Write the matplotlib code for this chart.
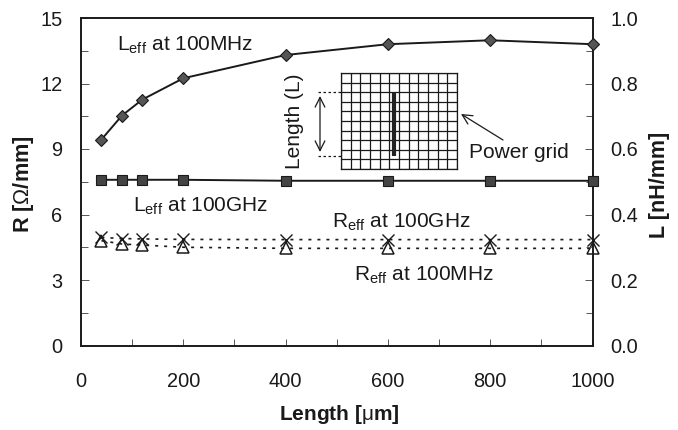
import matplotlib
matplotlib.use("Agg")
import matplotlib.pyplot as plt
import numpy as np

plt.rcParams['font.family'] = ['Liberation Sans', 'DejaVu Sans']
plt.rcParams['mathtext.fontset'] = 'custom'
plt.rcParams['mathtext.rm'] = 'Liberation Sans'
plt.rcParams['mathtext.bf'] = 'Liberation Sans:bold'

length = [40, 80, 120, 200, 400, 600, 800, 1000]
l_100mhz = [0.629, 0.702, 0.751, 0.816, 0.887, 0.920, 0.932, 0.920]
l_100ghz = [0.506, 0.506, 0.506, 0.506, 0.503, 0.503, 0.503, 0.503]
r_100ghz = [4.95, 4.90, 4.88, 4.86, 4.85, 4.85, 4.85, 4.85]
r_100mhz = [4.80, 4.65, 4.60, 4.50, 4.45, 4.45, 4.45, 4.45]

W, H = 678, 430
fig = plt.figure(figsize=(W/100, H/100), dpi=100)
L, R, T, B = 81, 592.5, 18, 345.5
ax = fig.add_axes([L/W, 1-B/H, (R-L)/W, (B-T)/H])
ax2 = ax.twinx()

ax.set_xlim(0, 1000)
ax.set_ylim(0, 15)
ax2.set_ylim(0, 1.0)

ink = '#1a1a1a'
ax2.plot(length, l_100mhz, '-', color=ink, lw=1.4, marker='D', ms=6.5, mfc='#555555', mec=ink, mew=0.8, clip_on=False, zorder=5)
ax2.plot(length, l_100ghz, '-', color=ink, lw=1.4, marker='s', ms=6.5, mfc='#444444', mec=ink, mew=0.8, clip_on=False, zorder=5)
dots = (0, (1.8, 3.6))
ax.plot(length, r_100ghz, ls=dots, color=ink, lw=1.2, marker='x', ms=8.5, mfc='none', mec=ink, mew=1.0, clip_on=False)
ax.plot(length, r_100mhz, ls=dots, color=ink, lw=1.2, marker='^', ms=8, mfc='none', mec=ink, mew=1.1, clip_on=False)

ax.set_xticks(np.arange(0, 1001, 200))
ax.set_xticks(np.arange(0, 1001, 100), minor=True)
ax.set_yticks(np.arange(0, 16, 3))
ax.set_yticks(np.arange(0, 15.1, 1.5), minor=True)
ax2.set_yticks(np.arange(0, 1.01, 0.2))
ax2.set_yticklabels(['0.0', '0.2', '0.4', '0.6', '0.8', '1.0'])
ax2.set_yticks(np.arange(0, 1.01, 0.1), minor=True)
ax.tick_params(axis='x', which='major', direction='in', length=5, width=0.7, labelsize=14.4, labelcolor=ink, color='#555555', pad=19)
ax.tick_params(axis='x', which='minor', direction='in', length=5, width=0.7, color='#555555')
ax.tick_params(axis='y', which='major', direction='in', length=6, width=0.7, labelsize=14.4, labelcolor=ink, color='#555555', pad=13.5)
ax.tick_params(axis='y', which='minor', direction='in', length=5, width=0.7, color='#555555')
ax2.tick_params(axis='y', which='major', direction='in', length=6, width=0.7, labelsize=14.4, labelcolor=ink, color='#555555', pad=13)
ax2.tick_params(axis='y', which='minor', direction='in', length=5, width=0.7, color='#555555')

for a in (ax, ax2):
    for s in a.spines.values():
        s.set_linewidth(1.2)
        s.set_color(ink)

fs = 15
ax.set_xlabel(r'Length [$\mathrm{\mu}$m]', fontsize=15, fontweight='bold', color=ink)
ax.set_ylabel(r'R [$\Omega$/mm]', fontsize=15.6, fontweight='bold', color=ink)
ax2.set_ylabel('L [nH/mm]', fontsize=15.5, fontweight='bold', color=ink)
ax.xaxis.set_label_coords((339.5-L)/(R-L), (B-415)/(B-T), transform=ax.transAxes)
ax.xaxis.label.set_va('center')
ax.yaxis.set_label_coords((23-L)/(R-L), (B-184.5)/(B-T), transform=ax.transAxes)
ax.yaxis.label.set_va('center')
ax2.yaxis.set_label_coords((659-L)/(R-L), (B-185)/(B-T), transform=ax2.transAxes)
ax2.yaxis.label.set_va('center')


def px(x, y):
    return (x/W, 1-y/H)


def label(x, y, sub, rest):
    fig.text(*px(x, y), r'$\mathrm{%s}_{\mathrm{eff}}$ %s' % (sub, rest), fontsize=fs, color=ink, va='center')


label(117, 45, 'L', 'at 100MHz')
label(133, 206, 'L', 'at 100GHz')
label(332, 222, 'R', 'at 100GHz')
label(354, 275, 'R', 'at 100MHz')

# Inset power grid sketch
ins = fig.add_axes([341/W, 1-169/H, 116/W, 96/H])
ins.set_xlim(0, 12)
ins.set_ylim(0, 10)
ins.set_xticks(range(13))
ins.set_yticks(range(11))
ins.tick_params(left=False, bottom=False, labelleft=False, labelbottom=False)
ins.grid(True, color=ink, lw=0.9)
ins.set_axisbelow(True)
ins.patch.set_alpha(0)
for s in ins.spines.values():
    s.set_linewidth(0.9)
    s.set_color(ink)
ins.plot([5.45, 5.45], [1.35, 8.05], color='#222222', lw=3, solid_capstyle='butt', clip_on=False)

over = fig.add_axes([0, 0, 1, 1])
over.set_xlim(0, W)
over.set_ylim(H, 0)
over.axis('off')
over.plot([318, 341], [92, 92], color=ink, lw=0.9, ls=(0, (2, 2)))
over.plot([318, 341], [156, 156], color=ink, lw=0.9, ls=(0, (2, 2)))
over.annotate('', xy=(320, 96), xytext=(320, 152),
              arrowprops=dict(arrowstyle='<->,head_length=0.7,head_width=0.35', color=ink, lw=0.9, shrinkA=0, shrinkB=0))
over.annotate('', xy=(461, 114), xytext=(503, 140),
              arrowprops=dict(arrowstyle='->,head_length=0.7,head_width=0.35', color=ink, lw=0.9, shrinkA=0, shrinkB=0))
over.text(469, 152, 'Power grid', fontsize=fs, color=ink, va='center')
over.text(295, 121, 'Length (L)', fontsize=fs, color=ink, rotation=90, va='center', ha='center')

fig.savefig('out.png', dpi=100)
